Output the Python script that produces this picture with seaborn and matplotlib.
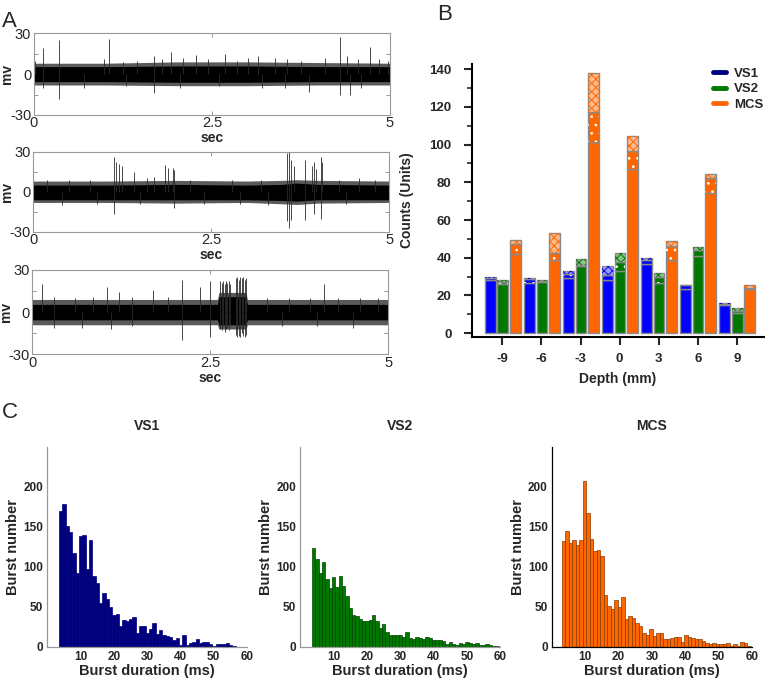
import numpy as np
import pandas as pd
import matplotlib
matplotlib.use('Agg')
import matplotlib.pyplot as plt
from matplotlib.lines import Line2D
from matplotlib.ticker import MultipleLocator
import seaborn as sns

# ---------------- Panel A: raw traces ----------------
# noise band envelope (mv) per trace
env1_t = [0, 1.0, 2.0, 3.0, 4.0, 5.0]
env1_hi = [5.5, 5.5, 6.0, 6.0, 5.5, 5.5]
env1_lo = [-5.5, -5.5, -6.0, -6.0, -5.5, -5.5]
fr1_hi = [8, 8, 9, 9, 8.5, 8]
fr1_lo = [-8, -8, -8.5, -8.5, -8, -8]
up1_t = [0.02, 0.13, 0.35, 0.98, 1.06, 1.25, 1.45, 1.69, 1.80, 1.93, 2.10, 2.28, 2.45,
         2.68, 2.85, 3.00, 3.15, 3.38, 3.55, 3.75, 4.09, 4.30, 4.40, 4.55, 4.72, 4.85, 4.97]
up1_v = [10, 19, 25, 11, 26, 9, 10, 13, 11, 16, 12, 14, 11,
         15, 10, 12, 13, 12, 11, 10, 12, 27, 13, 11, 20, 11, 10]
dn1_t = [0.0, 0.13, 0.35, 0.70, 1.30, 1.69, 2.05, 2.60, 3.20, 3.52, 3.87, 4.30, 4.44, 4.60]
dn1_v = [-10, -10, -18, -10, -9, -14, -10, -9, -10, -10, -13, -15, -15, -10]

env2_t = [0, 1.0, 2.0, 3.0, 3.5, 3.7, 4.0, 5.0]
env2_hi = [5.0, 5.0, 5.5, 5.0, 5.5, 6.5, 5.5, 5.0]
env2_lo = [-6.0, -6.0, -6.0, -6.0, -6.5, -7.0, -6.0, -6.0]
fr2_hi = [8, 8, 8.5, 8, 8.5, 9, 8.5, 8]
fr2_lo = [-8, -8, -8.5, -8, -9, -9.5, -8.5, -8]
up2_t = [0.20, 0.50, 0.80, 1.14, 1.16, 1.21, 1.25, 1.42, 1.60, 1.70, 1.85, 1.89, 1.97, 1.98,
         2.20, 2.80, 3.20, 3.56, 3.60, 3.62, 3.67, 3.82, 3.91, 3.95, 3.98, 4.04, 4.06,
         4.30, 4.58, 4.80]
up2_v = [9, 9, 9, 26, 22, 21, 19, 15, 10, 11, 20, 18, 18, 16,
         9, 9, 9, 29, 30, 24, 19, 24, 19, 22, 17, 26, 22,
         9, 10, 9]
dn2_t = [0.40, 0.90, 1.14, 1.50, 1.98, 2.40, 2.90, 3.30, 3.56, 3.60, 3.62, 3.82, 3.95, 4.04, 4.40]
dn2_v = [-10, -9, -17, -9, -12, -9, -9, -10, -22, -27, -21, -21, -17, -20, -9]

env3_t = [0, 2.60, 2.62, 3.00, 3.02, 5.0]
env3_hi = [5.5, 5.5, 11, 11, 5.5, 5.5]
env3_lo = [-5.5, -5.5, -9, -9, -5.5, -5.5]
fr3_hi = [9, 9, 14, 14, 9, 9]
fr3_lo = [-9, -9, -12, -12, -9, -9]
up3_t = [0.14, 0.30, 0.60, 0.85, 1.05, 1.22, 1.40, 1.69, 1.90, 2.10, 2.36, 2.50,
         2.64, 2.66, 2.68, 2.70, 2.72, 2.74, 2.76, 2.78,
         2.86, 2.88, 2.90, 2.92, 2.94, 2.96, 2.98, 3.00,
         3.30, 3.60, 3.90, 4.09, 4.30, 4.60, 4.85]
up3_v = [20, 11, 10, 11, 18, 14, 11, 16, 11, 23, 18, 22,
         22, 21, 22, 20, 22, 21, 22, 20,
         24, 25, 23, 25, 24, 25, 23, 24,
         10, 10, 10, 20, 10, 10, 10]
dn3_t = [0.30, 0.70, 1.10, 1.40, 2.10, 2.50,
         2.64, 2.66, 2.68, 2.70, 2.72, 2.74, 2.76, 2.78,
         2.86, 2.88, 2.90, 2.92, 2.94, 2.96, 2.98, 3.00,
         3.50, 4.00, 4.50]
dn3_v = [-11, -11, -12, -10, -20, -18,
         -12, -13, -10, -14, -12, -11, -13, -10,
         -16, -18, -17, -18, -15, -17, -18, -16,
         -10, -10, -11]

# ---------------- Panel B: unit counts per depth ----------------
depths = [-9, -6, -3, 0, 3, 6, 9]
vs1_solid = [28.0, 26.7, 29.5, 28.1, 36.8, 23.7, 14.7]
vs1_dotted = [1.5, 2.0, 2.1, 2.6, 1.8, 1.6, 1.0]
vs1_checked = [0.3, 0.4, 1.4, 5.1, 1.4, 0.5, 0.4]
vs2_solid = [26.3, 27.2, 35.4, 33.0, 26.8, 41.2, 10.5]
vs2_dotted = [1.0, 0.5, 0.6, 4.7, 3.0, 2.7, 1.4]
vs2_checked = [0.7, 0.3, 3.6, 4.9, 2.3, 1.7, 1.4]
mcs_solid = [42.1, 39.0, 101.4, 87.0, 39.0, 74.2, 23.2]
mcs_dotted = [5.3, 3.5, 15.9, 9.5, 7.3, 8.3, 1.0]
mcs_checked = [1.9, 10.5, 20.5, 8.3, 2.8, 1.8, 1.6]

# ---------------- Panel C: burst duration histograms (1 ms bins) ----------------
vs1_counts = [170, 178, 151, 144, 117, 92, 139, 140, 97, 133, 88, 80, 55, 67, 60, 50, 40, 41,
              26, 33, 32, 34, 37, 17, 26, 26, 17, 22, 30, 16, 21, 14, 13, 12, 8, 11, 2, 14,
              2, 5, 6, 9, 5, 6, 6, 3, 1, 3, 3, 3, 4, 2, 1]
vs2_counts = [124, 110, 92, 106, 85, 73, 87, 75, 88, 76, 64, 48, 40, 38, 35, 32, 32, 33,
              39, 32, 23, 28, 18, 15, 15, 15, 14, 12, 18, 11, 10, 12, 11, 10, 12, 11, 8, 8,
              8, 7, 3, 6, 3, 2, 5, 3, 6, 5, 3, 5, 2, 2, 3, 2, 1, 1]
mcs_counts = [132, 145, 130, 134, 127, 134, 207, 167, 135, 120, 121, 113, 65, 51, 47, 58,
              50, 62, 35, 38, 36, 29, 26, 17, 15, 22, 13, 17, 17, 9, 10, 11, 12, 12, 6, 14,
              12, 11, 9, 9, 7, 5, 3, 4, 3, 3, 3, 4, 1, 3, 1, 6, 4, 1]

sns.set_style('ticks')
plt.rcParams['font.family'] = ['Liberation Sans', 'DejaVu Sans']
plt.rcParams['hatch.linewidth'] = 0.7

fig = plt.figure(figsize=(7.72, 6.8), dpi=100)


def draw_trace(rect, env_t, env_hi, env_lo, fr_hi, fr_lo, up_t, up_v, dn_t, dn_v):
    ax = fig.add_axes(rect)
    ax.fill_between(env_t, fr_lo, fr_hi, color='#5a5a5a', lw=0)
    ax.fill_between(env_t, env_lo, env_hi, color='black', lw=0)
    ax.vlines(up_t, 0, up_v, color='#2a2a2a', lw=0.6)
    ax.vlines(dn_t, dn_v, 0, color='#2a2a2a', lw=0.6)
    ax.set_xlim(0, 5)
    ax.set_ylim(-30, 30)
    ax.set_xticks([0, 2.5, 5])
    ax.set_xticklabels(['0', '2.5', '5'])
    ax.set_yticks([-30, -15, 0, 15, 30])
    ax.set_yticklabels(['-30', '', '0', '', '30'])
    ax.tick_params(direction='in', top=True, right=True, length=3, width=0.6,
                   color='#888888', labelsize=10.5, pad=2)
    ax.tick_params(axis='x', pad=1)
    for s in ax.spines.values():
        s.set_color('#999999')
        s.set_linewidth(0.8)
    ax.set_xlabel('sec', fontsize=10, fontweight='bold')
    ax.xaxis.set_label_coords(0.5, -0.2)
    ax.set_ylabel('mv', fontsize=10, fontweight='bold')
    ax.yaxis.set_label_coords(-0.055, 0.5)
    return ax


draw_trace([0.044, 0.831, 0.461, 0.120], env1_t, env1_hi, env1_lo, fr1_hi, fr1_lo,
           up1_t, up1_v, dn1_t, dn1_v)
draw_trace([0.043, 0.659, 0.461, 0.118], env2_t, env2_hi, env2_lo, fr2_hi, fr2_lo,
           up2_t, up2_v, dn2_t, dn2_v)
draw_trace([0.042, 0.479, 0.461, 0.124], env3_t, env3_hi, env3_lo, fr3_hi, fr3_lo,
           up3_t, up3_v, dn3_t, dn3_v)

# ---- Panel B ----
axb = fig.add_axes([0.612, 0.505, 0.377, 0.401])
groups = [
    (vs1_solid, vs1_dotted, vs1_checked, '#0000ff', '#9999ff', -0.92),
    (vs2_solid, vs2_dotted, vs2_checked, '#007800', '#88c488', 0.03),
    (mcs_solid, mcs_dotted, mcs_checked, '#ff6600', '#ffb98a', 0.98),
]
w = 0.82
for solid, dotted, checked, col, light, off in groups:
    x = np.array(depths) + off
    solid = np.array(solid)
    dotted = np.array(dotted)
    checked = np.array(checked)
    axb.bar(x, solid, width=w, color=col, edgecolor='#8a8a8a', lw=1)
    axb.bar(x, dotted, bottom=solid, width=w, color=col, edgecolor='#8a8a8a', lw=1)
    axb.bar(x, dotted, bottom=solid, width=w, facecolor='none', edgecolor='white',
            hatch='..', lw=0)
    axb.bar(x, checked, bottom=solid + dotted, width=w, color=light, edgecolor='#8a8a8a', lw=1)
    axb.bar(x, checked, bottom=solid + dotted, width=w, facecolor='none', edgecolor=col,
            hatch='xxxx', lw=0)

axb.set_xlim(-11.3, 11.05)
axb.set_ylim(-1.8, 142.8)
axb.set_xticks(depths)
axb.set_xticklabels([str(d) for d in depths])
axb.yaxis.set_major_locator(MultipleLocator(20))
axb.yaxis.set_minor_locator(MultipleLocator(10))
axb.set_yticks(range(0, 141, 20))
axb.tick_params(axis='both', which='major', length=6, width=1.5, labelsize=9.5)
axb.tick_params(axis='y', which='major', pad=9)
axb.tick_params(axis='x', which='major', pad=6)
axb.tick_params(axis='y', which='minor', length=3.5, width=1.2)
for lab in axb.get_xticklabels() + axb.get_yticklabels():
    lab.set_fontweight('bold')
for side in ['top', 'right']:
    axb.spines[side].set_visible(False)
for side in ['left', 'bottom']:
    axb.spines[side].set_linewidth(1.5)
    axb.spines[side].set_color('black')
axb.set_xlabel('Depth (mm)', fontsize=10, fontweight='bold', labelpad=5)
axb.set_ylabel('Counts (Units)', fontsize=10, fontweight='bold')
axb.yaxis.set_label_coords(-0.2, 0.5)
handles = [Line2D([], [], color=c, lw=3.5) for c in ['#000080', '#007800', '#ff6600']]
axb.legend(handles, ['VS1', 'VS2', 'MCS'], loc='upper right', bbox_to_anchor=(1.04, 1.03),
           frameon=False, handlelength=1.0, handletextpad=0.6, labelspacing=0.25,
           prop={'weight': 'bold', 'size': 9.5})

# ---- Panel C ----
hists = [
    (vs1_counts, 3.6, 1.0, '#00007f', '#00007f', 'VS1', '#999999', 0.061),
    (vs2_counts, 3.5, 1.0, '#007800', '#004400', 'VS2', '#999999', 0.389),
    (mcs_counts, 3.0, 1.05, '#ff6600', '#8a3a00', 'MCS', '#000000', 0.715),
]
for counts, start, bw, col, edge, title, spcol, left in hists:
    ax = fig.add_axes([left, 0.049, 0.259, 0.294])
    edges = start + bw * np.arange(len(counts) + 1)
    df = pd.DataFrame({'dur': edges[:-1] + bw / 2, 'n': counts})
    sns.histplot(data=df, x='dur', weights='n', bins=edges.tolist(), color=col,
                 edgecolor=edge, linewidth=0.5, alpha=1, ax=ax)
    ax.set_xlim(0, 60)
    ax.set_ylim(0, 250)
    ax.set_xticks([10, 20, 30, 40, 50, 60])
    ax.set_yticks([0, 50, 100, 150, 200])
    ax.tick_params(length=0, labelsize=8.5, pad=3)
    for lab in ax.get_xticklabels() + ax.get_yticklabels():
        lab.set_fontweight('bold')
    for side in ['top', 'right']:
        ax.spines[side].set_visible(False)
    for side in ['left', 'bottom']:
        ax.spines[side].set_color(spcol)
        ax.spines[side].set_linewidth(0.9)
    ax.set_title(title, fontsize=10, fontweight='bold', pad=12)
    ax.set_xlabel('Burst duration (ms)', fontsize=10.5, fontweight='bold', labelpad=1)
    ax.set_ylabel('Burst number', fontsize=10.5, fontweight='bold')
    ax.yaxis.set_label_coords(-0.135, 0.5)

fig.text(0.003, 0.96, 'A', fontsize=16)
fig.text(0.566, 0.97, 'B', fontsize=16)
fig.text(0.003, 0.385, 'C', fontsize=16)

fig.savefig('out.png', dpi=100)
